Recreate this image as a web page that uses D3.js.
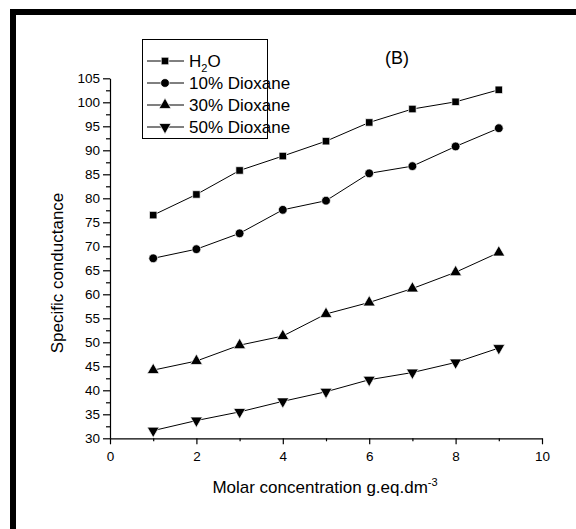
<!DOCTYPE html>
<meta charset="utf-8">
<style>

    body {
        margin: 0;
        background: #fff;
    }

    svg {
        font-family: Arial, "Liberation Sans", sans-serif;
    }

    .axis path,
    .axis line {
        stroke: #000;
        stroke-width: 1.2px;
    }

    .axis text {
        font-size: 13.5px;
        fill: #000;
    }

    .line {
        fill: none;
        stroke: #000;
        stroke-width: 1px;
    }

    .marker {
        fill: #000;
        stroke: #fff;
        stroke-width: 0.7px;
    }

</style>

<svg width="576" height="529"></svg>

<script src="https://cdnjs.cloudflare.com/ajax/libs/d3/7.8.5/d3.min.js"></script>
<script>

    // concentration values on the x axis
    var concentration = [1, 2, 3, 4, 5, 6, 7, 8, 9];

    // specific conductance for each solvent
    var water = [76.5, 80.8, 85.8, 88.8, 91.9, 95.8, 98.6, 100.1, 102.6];
    var dioxane10 = [67.5, 69.4, 72.7, 77.6, 79.5, 85.2, 86.7, 90.8, 94.6];
    var dioxane30 = [44.2, 46.1, 49.4, 51.3, 55.9, 58.3, 61.2, 64.6, 68.7];
    var dioxane50 = [31.6, 33.7, 35.5, 37.7, 39.7, 42.2, 43.7, 45.8, 48.8];

    var seriesNames = ["H2O", "10% Dioxane", "30% Dioxane", "50% Dioxane"];
    var seriesValues = [water, dioxane10, dioxane30, dioxane50];

    var xTicks = [0, 2, 4, 6, 8, 10];
    var xMinorTicks = [1, 3, 5, 7, 9];
    var yTicks = [30, 35, 40, 45, 50, 55, 60, 65, 70, 75, 80, 85, 90, 95, 100, 105];
    var yMinorTicks = [32.5, 37.5, 42.5, 47.5, 52.5, 57.5, 62.5, 67.5, 72.5, 77.5, 82.5, 87.5, 92.5, 97.5, 102.5];

    var svg = d3.select("svg");

    // thick frame round the figure (right and bottom edges fall outside the picture)
    svg.append("rect")
            .attr("x", 13)
            .attr("y", 12)
            .attr("width", 620)
            .attr("height", 620)
            .attr("fill", "none")
            .attr("stroke", "#000")
            .attr("stroke-width", 6);

    var x = d3.scaleLinear().domain([0, 10]).range([110, 542]),
            y = d3.scaleLinear().domain([30, 105]).range([438.3, 78.3]);

    var shapes = [
        d3.symbol().type(d3.symbolSquare).size(56),
        d3.symbol().type(d3.symbolCircle).size(60),
        d3.symbol().type(d3.symbolTriangle).size(62),
        d3.symbol().type(d3.symbolTriangle).size(62)
    ];
    var rotations = [0, 0, 0, 180];

    var series = seriesNames.map(function(name, i) {
        return {
            id: name,
            shape: shapes[i],
            rotate: rotations[i],
            values: concentration.map(function(c, j) {
                return {conc: c, value: seriesValues[i][j]};
            })
        };
    });

    // minor ticks first
    svg.append("g")
            .attr("class", "axis")
            .attr("transform", "translate(0," + y(30) + ")")
            .call(d3.axisBottom(x).tickValues(xMinorTicks).tickSize(3).tickFormat(""))
            .select(".domain").remove();

    svg.append("g")
            .attr("class", "axis")
            .attr("transform", "translate(" + x(0) + ",0)")
            .call(d3.axisLeft(y).tickValues(yMinorTicks).tickSize(4).tickFormat(""))
            .select(".domain").remove();

    // x axis
    svg.append("g")
            .attr("class", "axis axis--x")
            .attr("transform", "translate(0," + y(30) + ")")
            .call(d3.axisBottom(x).tickValues(xTicks).tickSize(6).tickSizeOuter(0).tickPadding(7.4));

    // y axis
    svg.append("g")
            .attr("class", "axis axis--y")
            .attr("transform", "translate(" + x(0) + ",0)")
            .call(d3.axisLeft(y).tickValues(yTicks).tickSize(7).tickSizeOuter(0).tickPadding(3));

    // axis titles
    var xTitle = svg.append("text")
            .attr("x", 325)
            .attr("y", 493)
            .attr("text-anchor", "middle")
            .style("font-size", "17px");
    xTitle.append("tspan").text("Molar concentration g.eq.dm");
    xTitle.append("tspan")
            .attr("dy", -7)
            .style("font-size", "11px")
            .text("-3");

    svg.append("text")
            .attr("transform", "translate(63,273) rotate(-90)")
            .attr("text-anchor", "middle")
            .style("font-size", "17px")
            .text("Specific conductance");

    svg.append("text")
            .attr("x", 397)
            .attr("y", 64)
            .attr("text-anchor", "middle")
            .style("font-size", "18px")
            .text("(B)");

    var line = d3.line()
            .x(function(d) { return x(d.conc); })
            .y(function(d) { return y(d.value); });

    var group = svg.selectAll(".series")
            .data(series)
            .enter().append("g")
            .attr("class", "series");

    group.append("path")
            .attr("class", "line")
            .attr("d", function(d) { return line(d.values); });

    group.each(function(s) {
        d3.select(this).selectAll(".marker")
                .data(s.values)
                .enter().append("path")
                .attr("class", "marker")
                .attr("d", s.shape)
                .attr("transform", function(d) {
                    return "translate(" + x(d.conc) + "," + y(d.value) + ") rotate(" + s.rotate + ")";
                });
    });

    // legend
    var legend = svg.append("g");
    legend.append("rect")
            .attr("x", 142.5)
            .attr("y", 39.5)
            .attr("width", 125)
            .attr("height", 99)
            .attr("fill", "#fff")
            .attr("stroke", "#000")
            .attr("stroke-width", 1);

    var item = legend.selectAll(".item")
            .data(series)
            .enter().append("g")
            .attr("class", "item")
            .attr("transform", function(d, i) { return "translate(0," + (61 + i * 22) + ")"; });

    item.append("line")
            .attr("x1", 147)
            .attr("x2", 184)
            .attr("stroke", "#000")
            .attr("stroke-width", 1);

    item.append("path")
            .attr("class", "marker")
            .attr("d", function(d) { return d.shape(); })
            .attr("transform", function(d) { return "translate(165,0) rotate(" + d.rotate + ")"; });

    item.append("text")
            .attr("x", 189)
            .attr("y", 6)
            .style("font-size", "17px")
            .each(function(d) {
                var t = d3.select(this);
                if (d.id == "H2O") {
                    t.append("tspan").text("H");
                    t.append("tspan").attr("dy", 5).style("font-size", "11px").text("2");
                    t.append("tspan").attr("dy", -5).text("O");
                } else {
                    t.text(d.id);
                }
            });

</script>
